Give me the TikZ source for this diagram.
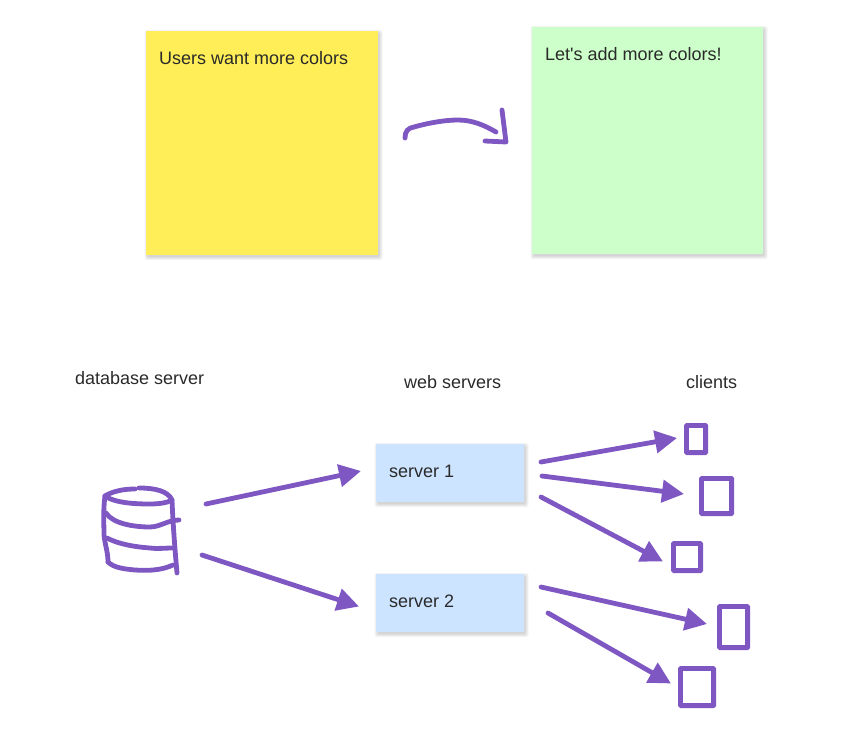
\documentclass[tikz,border=0pt]{standalone}
\usepackage{fontspec}
\newfontfamily\labelfont{Liberation Sans}
\usetikzlibrary{arrows.meta}
\definecolor{ink}{HTML}{7E57C2}
\definecolor{stickyyellow}{HTML}{FFEE58}
\definecolor{stickygreen}{HTML}{CCFFC9}
\definecolor{serverblue}{HTML}{CCE4FF}
\definecolor{labeltext}{HTML}{2A2A2A}
\tikzset{
  card/.style={inner sep=0pt, outer sep=0pt, anchor=north west},
  haze/.style={fill=black, opacity=.045, rounded corners=2pt},
  caption/.style={anchor=base west, inner sep=0pt, text=labeltext,
    font=\labelfont\fontsize{18pt}{21pt}\selectfont},
  pen/.style={draw=ink, line width=4.8pt, line cap=round, line join=round},
  thrust/.style={pen, -{Triangle[length=22pt,width=22pt,fill=ink]}},
  client/.style={draw=ink, line width=4.8pt, inner sep=0pt, outer sep=0pt,
    anchor=north west, rounded corners=.6pt},
}
% a filled card over a few stacked translucent rectangles that fade out
% towards the lower right
\newcommand{\cardnode}[6]{%
  \foreach \g in {3,2,1,0}{%
    \fill[haze] ({#5+1.5-\g},{#6+2-\g}) rectangle ({#5+#3+1.5+\g},{#6+#4+2+\g});}
  \node[card, fill=#2, minimum width=#3pt, minimum height=#4pt] (#1) at (#5,#6) {};}
\newcommand{\clientnode}[5]{%
  \node[client, minimum width=#4pt, minimum height=#5pt] (#1) at (#2,#3) {};}
\begin{document}
\begin{tikzpicture}[x=1pt,y=-1pt]
\useasboundingbox (0,0) rectangle (846,754);

% sticky notes
\cardnode{wish}{stickyyellow}{232}{224}{146}{31}
\cardnode{plan}{stickygreen}{231}{227}{532}{27}
\node[caption] (wishtext) at (159,64.4) {Users want more colors};
\node[caption] (plantext) at (545,60.4) {Let's add more colors!};

% hand-drawn arrow between the notes
\coordinate (swoopstart) at (405,138);
\coordinate (swoopend) at (496,132);
\draw[pen] (swoopstart) .. controls (405,131) and (408,128) .. (414,127)
  .. controls (428,123) and (445,120) .. (458,120)
  .. controls (472,120) and (484,125) .. (swoopend);
\coordinate (headtop) at (502,110);
\coordinate (headcorner) at (506,142);
\coordinate (headend) at (485,141);
\draw[pen] (headtop) -- (headcorner) -- (headend);

% column headings
\node[caption] (dbhead) at (75,384.4) {database server};
\node[caption] (webhead) at (404,388.4) {web servers};
\node[caption] (clienthead) at (686,388.4) {clients};

% web servers
\cardnode{srvone}{serverblue}{148}{58}{376}{444}
\cardnode{srvtwo}{serverblue}{148}{58}{376}{574}
\node[caption] (srvonetext) at (389,477.4) {server 1};
\node[caption] (srvtwotext) at (389,607.4) {server 2};

% hand-drawn database cylinder
\draw[pen] (105,496) .. controls (113,491) and (124,489) .. (135,489);
\draw[pen] (139,488) .. controls (155,488) and (168,491) .. (172,500);
\draw[pen] (105,496) .. controls (115,503) and (135,504) .. (150,504)
  .. controls (158,504) and (167,503) .. (172,500);
\draw[pen] (105,496) .. controls (103,510) and (104,525) .. (104,535)
  .. controls (105,545) and (108,552) .. (108,562);
\draw[pen] (172,500) .. controls (173,525) and (175,550) .. (177,573);
\draw[pen] (106,513) .. controls (113,524) and (135,527) .. (150,527)
  .. controls (160,527) and (168,520) .. (179,520);
\draw[pen] (107,538) .. controls (118,544) and (135,547) .. (150,548)
  .. controls (158,549) and (165,548) .. (172,548);
\draw[pen] (108,562) .. controls (114,568) and (125,569) .. (135,570)
  .. controls (150,571) and (162,570) .. (173,565);

% client devices
\clientnode{devone}{686.4}{425.4}{19.2}{27.2}
\clientnode{devtwo}{701.4}{478.4}{30.2}{35.2}
\clientnode{devthree}{673.4}{543.4}{27.2}{27.2}
\clientnode{devfour}{719.4}{606.4}{28.2}{41.2}
\clientnode{devfive}{680.4}{668.4}{33.2}{37.2}

% free ends of the loose arrows
\coordinate (dbouta) at (206,504);
\coordinate (dboutb) at (202,555);
\coordinate (intoa) at (361,471);
\coordinate (intob) at (359,606.5);
\coordinate (oa) at (541,462);
\coordinate (ob) at (542,476);
\coordinate (oc) at (541,497);
\coordinate (od) at (541,587);
\coordinate (oe) at (548,613);
\coordinate (ta) at (677,438);
\coordinate (tb) at (684,494);
\coordinate (tc) at (663,561.5);
\coordinate (td) at (707,624);
\coordinate (te) at (671,683.5);

\draw[thrust] (dbouta) -- (intoa);
\draw[thrust] (dboutb) -- (intob);
\draw[thrust] (oa) -- (ta);
\draw[thrust] (ob) -- (tb);
\draw[thrust] (oc) -- (tc);
\draw[thrust] (od) -- (td);
\draw[thrust] (oe) -- (te);
\end{tikzpicture}
\end{document}
